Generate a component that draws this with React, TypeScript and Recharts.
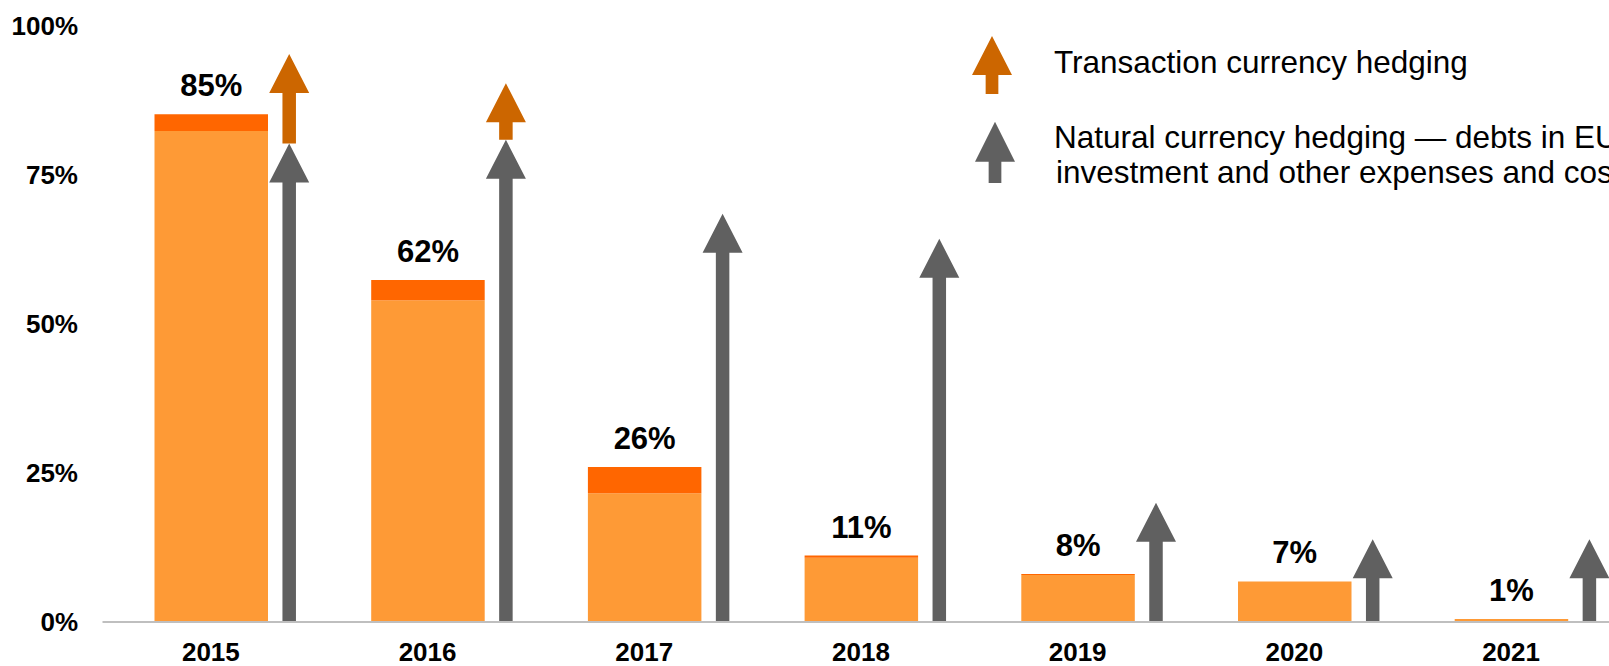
import React from 'react';
import { ComposedChart, Bar, XAxis, YAxis, LabelList } from 'recharts';

// ---- data ----
const years = ['2015', '2016', '2017', '2018', '2019', '2020', '2021'];
const baseShare = [82.4, 54.0, 21.6, 10.8, 7.9, 6.8, 0.5];
const topShare = [2.8, 3.4, 4.4, 0.35, 0.15, 0, 0];
const totalLabels = ['85%', '62%', '26%', '11%', '8%', '7%', '1%'];
const naturalHedge = [80.3, 80.9, 68.5, 64.3, 20.0, 13.9, 13.9];
const transactionHedge = [15.0, 9.5, 0, 0, 0, 0, 0];
const yTicks = [0, 25, 50, 75, 100];
const legendTransaction = 'Transaction currency hedging';
const legendNaturalLine1 = 'Natural currency hedging \u2014 debts in EUR,';
const legendNaturalLine2 = 'investment and other expenses and costs in EUR';

const data = years.map((year, i) => ({
  year,
  base: baseShare[i],
  top: topShare[i],
  total: baseShare[i] + topShare[i],
  label: totalLabels[i],
  natural: naturalHedge[i],
  transaction: transactionHedge[i],
}));

const FONT = '"Liberation Sans", Arial, Helvetica, sans-serif';
const LIGHT = '#FE9A36';
const DARK = '#FF6600';
const GRAY = '#606060';
const ORANGE_ARROW = '#CC6600';
const ARROW_SHIFT = 78.7;
const SHAFT_W = 13.5;
const HEAD_W = 40;
const HEAD_H = 39;

function arrowPoints(cx: number, tipY: number, baseY: number, shaftW: number, headW: number, headH: number) {
  const hb = tipY + headH;
  return [
    [cx, tipY],
    [cx + headW / 2, hb],
    [cx + shaftW / 2, hb],
    [cx + shaftW / 2, baseY],
    [cx - shaftW / 2, baseY],
    [cx - shaftW / 2, hb],
    [cx - headW / 2, hb],
  ]
    .map((p) => p.join(','))
    .join(' ');
}

const makeArrow = (color: string) => (props: any) => {
  const { x, y, width, height } = props;
  if (!height || height <= 0) return <g />;
  const cx = x + width / 2 + ARROW_SHIFT;
  return <polygon points={arrowPoints(cx, y, y + height, SHAFT_W, HEAD_W, HEAD_H)} fill={color} />;
};

const TopLabel = (props: any) => {
  const { x, y, width, value } = props;
  return (
    <text
      x={x + width / 2}
      y={y - 18}
      textAnchor="middle"
      fontFamily={FONT}
      fontWeight="bold"
      fontSize={31}
      fill="#000"
    >
      {value}
    </text>
  );
};

const Legend = () => (
  <svg
    width={1609}
    height={666}
    style={{ position: 'absolute', left: 0, top: 0, pointerEvents: 'none' }}
  >
    <polygon points={arrowPoints(992, 36, 94, 12.7, 40, 39)} fill={ORANGE_ARROW} />
    <polygon points={arrowPoints(995, 121.7, 183, 12.7, 40, 40)} fill={GRAY} />
    <text x={1054} y={73} fontFamily={FONT} fontSize={31.5} fill="#000">
      {legendTransaction}
    </text>
    <text x={1054} y={148} fontFamily={FONT} fontSize={31.5} fill="#000">
      {legendNaturalLine1}
    </text>
    <text x={1056} y={183} fontFamily={FONT} fontSize={31.5} fill="#000">
      {legendNaturalLine2}
    </text>
  </svg>
);

export default function App() {
  return (
    <div
      style={{
        position: 'absolute',
        left: 0,
        top: 0,
        width: 1609,
        height: 666,
        overflow: 'hidden',
        background: '#fff',
      }}
    >
      <ComposedChart
        width={1625}
        height={666}
        data={data}
        margin={{ top: 26, right: 5.6, bottom: 0, left: 0 }}
      >
        <XAxis
          xAxisId="a"
          dataKey="year"
          height={44}
          axisLine={{ stroke: '#BFBFBF', strokeWidth: 2 }}
          tickLine={false}
          tickSize={0}
          tickMargin={21}
          tick={{ fontFamily: FONT, fontWeight: 'bold', fontSize: 26, fill: '#000' }}
          interval={0}
        />
        <XAxis xAxisId="b" dataKey="year" hide />
        <XAxis xAxisId="c" dataKey="year" hide />
        <YAxis
          domain={[0, 100]}
          ticks={yTicks}
          width={102.5}
          axisLine={false}
          tickLine={false}
          tickSize={0}
          tickMargin={24.5}
          tickFormatter={(v: number) => `${v}%`}
          tick={{ fontFamily: FONT, fontWeight: 'bold', fontSize: 26, fill: '#000' }}
        />
        <Bar xAxisId="a" dataKey="base" stackId="s" fill={LIGHT} barSize={113.5} isAnimationActive={false} />
        <Bar xAxisId="a" dataKey="top" stackId="s" fill={DARK} barSize={113.5} isAnimationActive={false} />
        <Bar
          xAxisId="c"
          dataKey="total"
          fill="#000"
          fillOpacity={0}
          barSize={113.5}
          isAnimationActive={false}
        >
          <LabelList dataKey="label" content={TopLabel} />
        </Bar>
        <Bar
          xAxisId="b"
          dataKey="natural"
          stackId="arrow"
          barSize={40}
          shape={makeArrow(GRAY)}
          isAnimationActive={false}
        />
        <Bar
          xAxisId="b"
          dataKey="transaction"
          stackId="arrow"
          barSize={40}
          shape={makeArrow(ORANGE_ARROW)}
          isAnimationActive={false}
        />
      </ComposedChart>
      <Legend />
    </div>
  );
}
